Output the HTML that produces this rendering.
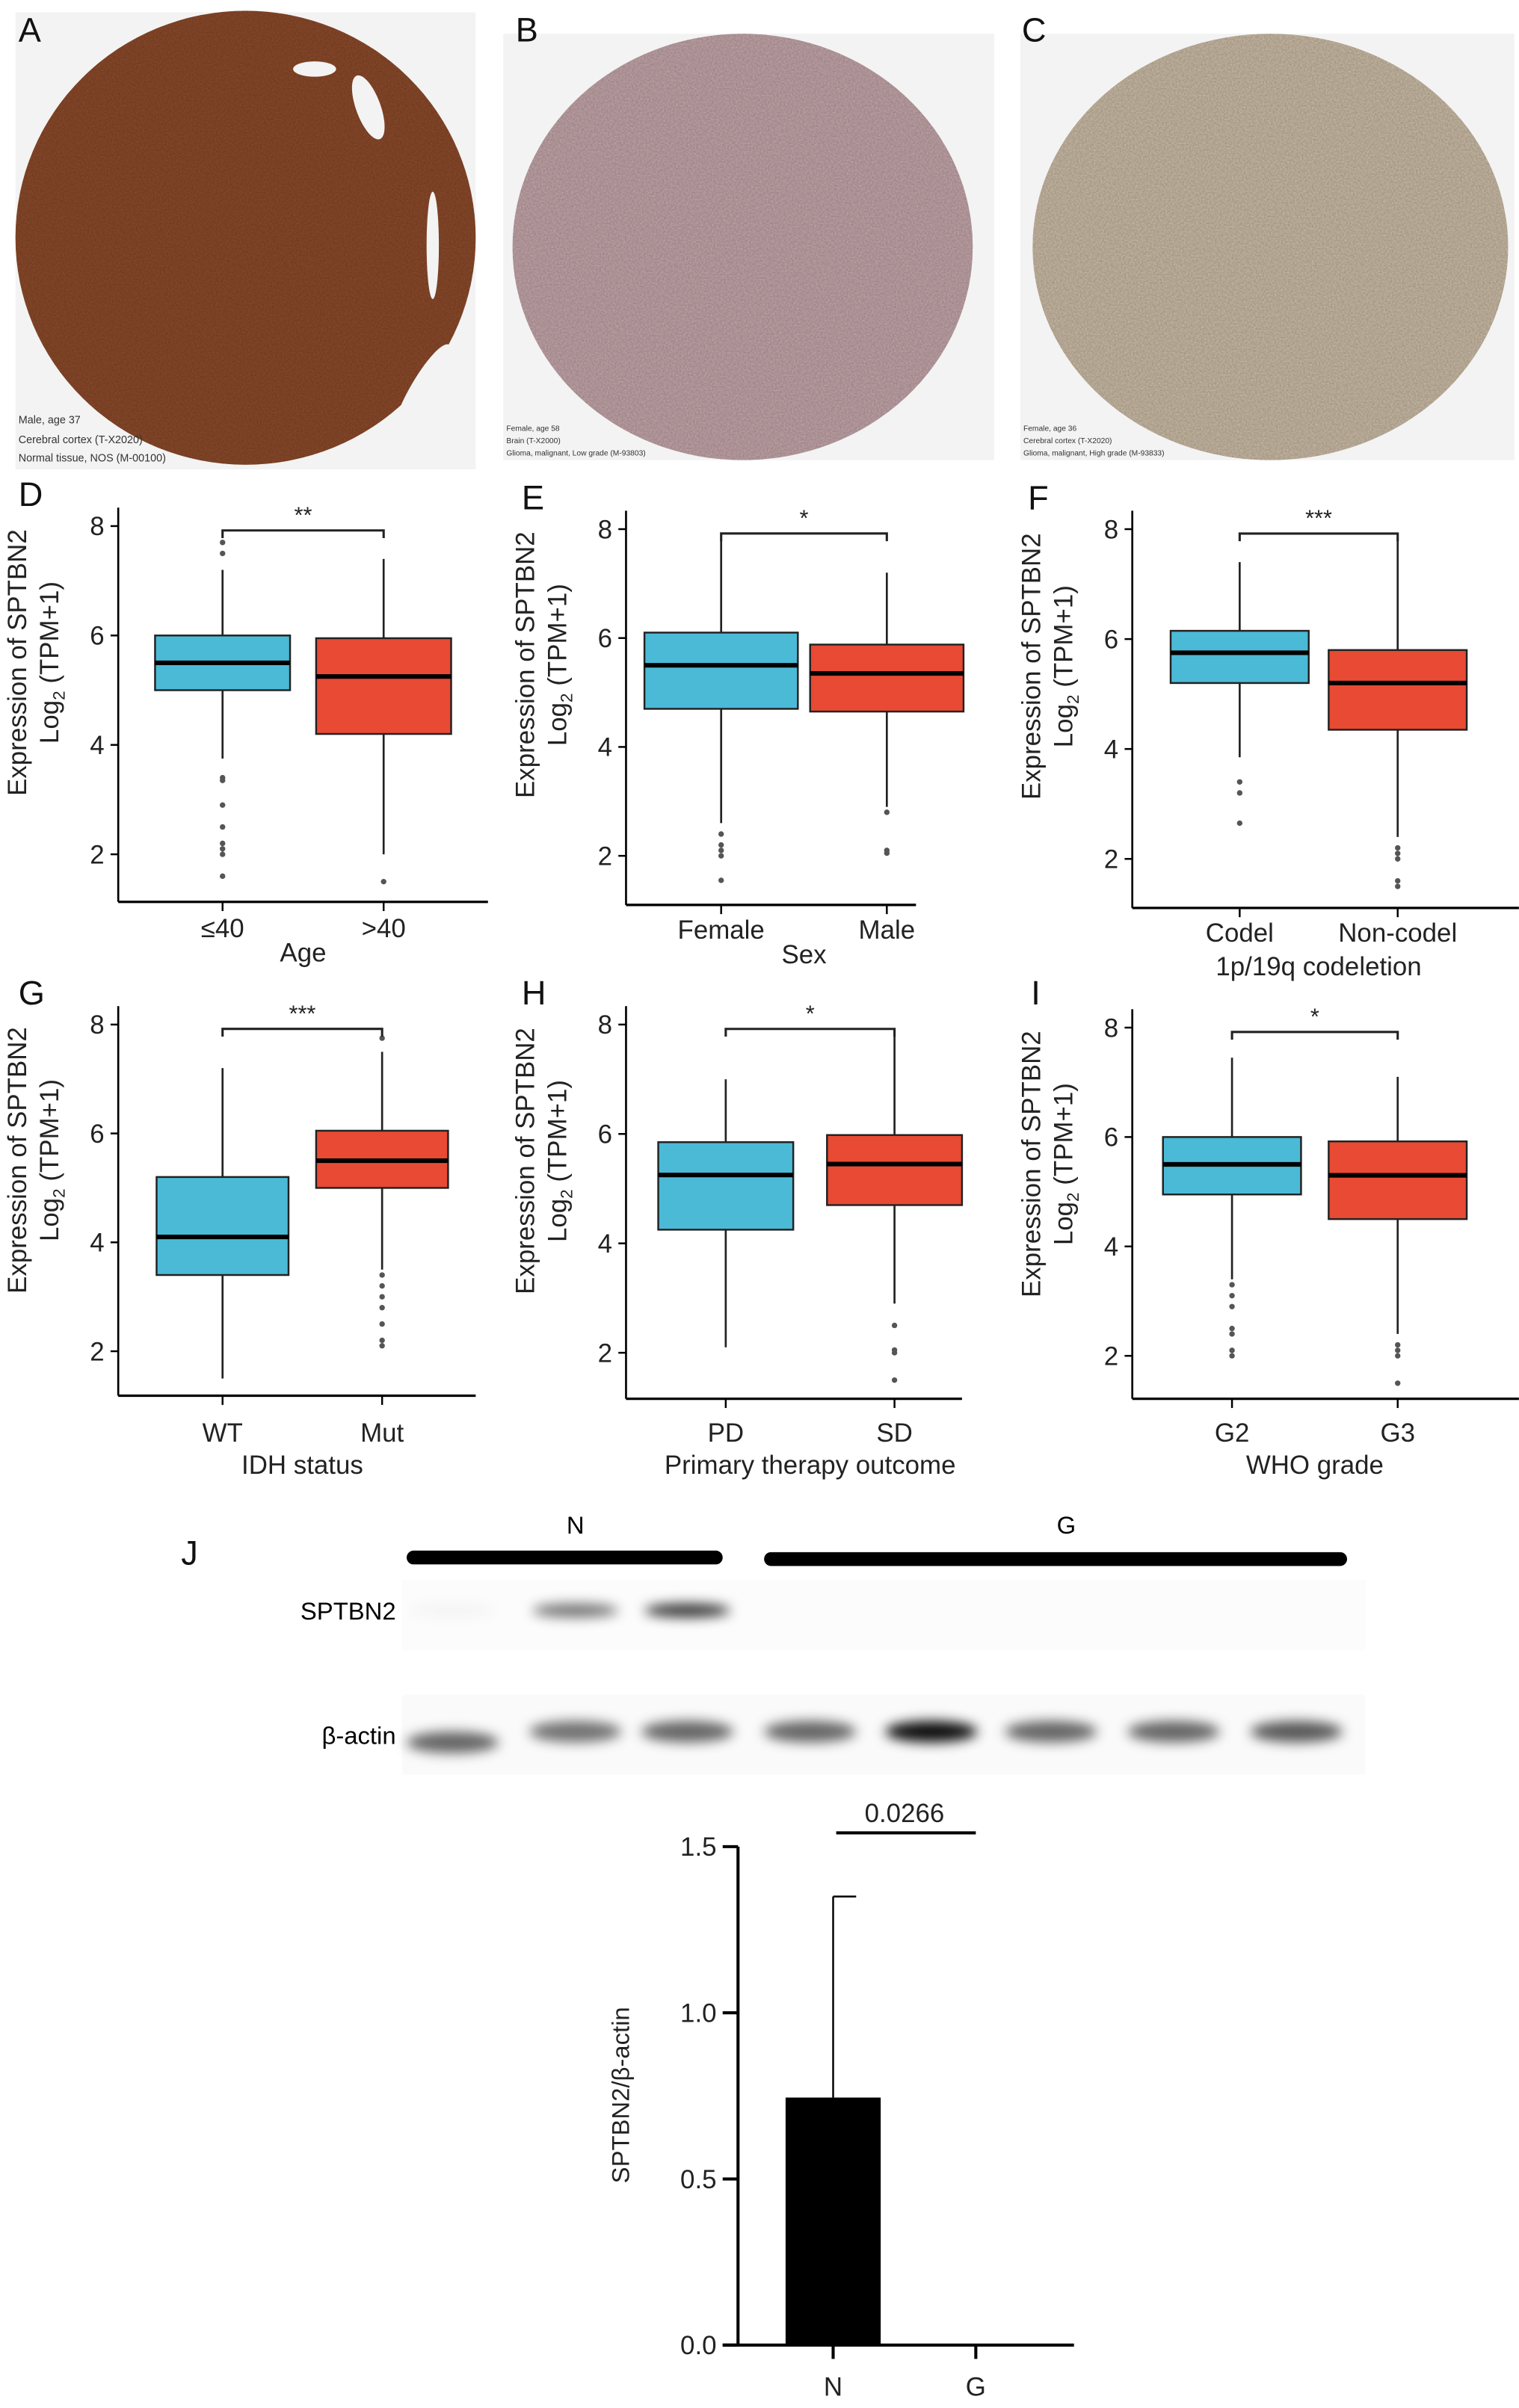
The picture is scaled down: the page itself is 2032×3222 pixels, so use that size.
<!DOCTYPE html>
<html><head><meta charset="utf-8"><style>
html,body{margin:0;padding:0;background:#fff}
svg{display:block}
text{font-family:"Liberation Sans",sans-serif}
</style></head><body>
<svg id="fig" width="2032" height="3222" viewBox="0 0 990 1570" xmlns="http://www.w3.org/2000/svg">
<defs>
<filter id="blur" x="-50%" y="-50%" width="200%" height="200%"><feGaussianBlur stdDeviation="4"/></filter>
<filter id="noise"><feTurbulence type="fractalNoise" baseFrequency="0.9" numOctaves="2" seed="3"/><feColorMatrix values="0 0 0 0 0  0 0 0 0 0  0 0 0 0 0  0 0 0 0.25 0"/><feComposite in2="SourceGraphic" operator="in"/></filter>
</defs>
<!-- IHC images -->
<g>
<rect x="10" y="8" width="300" height="298" fill="#f3f3f3"/>
<ellipse cx="160" cy="155" rx="150" ry="148" fill="#8c4a2a"/>
<ellipse cx="160" cy="155" rx="150" ry="148" fill="#000" filter="url(#noise)"/>
<ellipse cx="205" cy="45" rx="14" ry="5" fill="#f3f3f3"/>
<ellipse cx="240" cy="70" rx="8" ry="22" fill="#f3f3f3" transform="rotate(-20 240 70)"/>
<ellipse cx="282" cy="160" rx="4" ry="35" fill="#f3f3f3"/>
<ellipse cx="275" cy="255" rx="8" ry="35" fill="#f3f3f3" transform="rotate(30 275 255)"/>
<text x="12" y="276" font-size="7" fill="#333">Male, age 37</text>
<text x="12" y="289" font-size="7" fill="#333">Cerebral cortex (T-X2020)</text>
<text x="12" y="301" font-size="7" fill="#333">Normal tissue, NOS (M-00100)</text>
</g>
<g>
<rect x="328" y="22" width="320" height="278" fill="#f3f3f3"/>
<ellipse cx="484" cy="161" rx="150" ry="139" fill="#c4a6aa"/>
<ellipse cx="484" cy="161" rx="150" ry="139" fill="#000" filter="url(#noise)"/>
<text x="330" y="281" font-size="5" fill="#333">Female, age 58</text>
<text x="330" y="289" font-size="5" fill="#333">Brain (T-X2000)</text>
<text x="330" y="297" font-size="5" fill="#333">Glioma, malignant, Low grade (M-93803)</text>
</g>
<g>
<rect x="665" y="22" width="322" height="278" fill="#f3f3f3"/>
<ellipse cx="828" cy="161" rx="155" ry="139" fill="#cbbca6"/>
<ellipse cx="828" cy="161" rx="155" ry="139" fill="#000" filter="url(#noise)"/>
<text x="667" y="281" font-size="5" fill="#333">Female, age 36</text>
<text x="667" y="289" font-size="5" fill="#333">Cerebral cortex (T-X2020)</text>
<text x="667" y="297" font-size="5" fill="#333">Glioma, malignant, High grade (M-93833)</text>
</g>
<g id="letters" font-size="22" fill="#111">
<text x="12" y="27">A</text>
<text x="336" y="27">B</text>
<text x="666" y="27">C</text>
<text x="12" y="330">D</text>
<text x="340" y="332">E</text>
<text x="670" y="332">F</text>
<text x="12" y="655">G</text>
<text x="340" y="655">H</text>
<text x="672" y="655">I</text>
<text x="118" y="1020">J</text>
</g>
<g id="boxplots"></g>
<!-- Western blot -->
<g>
<rect x="265" y="1011" width="206" height="9" rx="4.5" fill="#000"/>
<rect x="498" y="1012" width="380" height="9" rx="4.5" fill="#000"/>
<text x="375" y="1000" font-size="16" text-anchor="middle">N</text>
<text x="695" y="1000" font-size="16" text-anchor="middle">G</text>
<rect x="262" y="1030" width="628" height="46" fill="#fcfcfc"/>
<rect x="262" y="1105" width="628" height="52" fill="#fafafa"/>
<text x="258" y="1056" font-size="16" text-anchor="end">SPTBN2</text>
<text x="258" y="1137" font-size="16" text-anchor="end">β-actin</text>
<g id="bands" filter="url(#blur)"></g>
</g>
<g id="barchart"></g>
</svg>
<script>
// ---- box plot data ----
const panelNames = ['d','e','f','g','h','i'];
const groupLabels = [['≤40','>40'],['Female','Male'],['Codel','Non-codel'],['WT','Mut'],['PD','SD'],['G2','G3']];
const axisTitles = ['Age','Sex','1p/19q codeletion','IDH status','Primary therapy outcome','WHO grade'];
const sigLabels = ['**','*','***','***','*','*'];
const yTicks = [2,4,6,8];
// [low whisker, q1, median, q3, high whisker]
const statsA = [[3.75,5.0,5.5,6.0,7.2],[2.6,4.7,5.5,6.1,7.8],[3.85,5.2,5.75,6.15,7.4],[1.5,3.4,4.1,5.2,7.2],[2.1,4.25,5.25,5.85,7.0],[3.4,4.95,5.5,6.0,7.45]];
const statsB = [[2.0,4.2,5.25,5.95,7.4],[2.9,4.65,5.35,5.88,7.2],[2.4,4.35,5.2,5.8,7.85],[3.5,5.0,5.5,6.05,7.5],[2.9,4.7,5.45,5.98,7.8],[2.4,4.5,5.3,5.92,7.1]];
const outA = [[7.7,7.5,3.4,3.35,2.9,2.5,2.2,2.1,2.0,1.6],[2.4,2.2,2.1,2.0,1.55],[3.4,3.2,2.65],[],[],[3.3,3.1,2.9,2.5,2.4,2.1,2.0]];
const outB = [[1.5],[2.8,2.1,2.05],[2.2,2.1,2.0,1.6,1.5],[7.75,3.4,3.2,3.0,2.8,2.5,2.2,2.1],[2.5,2.05,2.0,1.5],[2.2,2.1,2.0,1.5]];
// ---- bar chart data ----
const barCats = ['N','G'];
const barVals = [0.745,0.0];
const barErr = [0.605,0.0];
const barTicks = [0.0,0.5,1.0,1.5];
const pValue = '0.0266';
// ---- blot band intensities (0-1) ----
const sptbn2Bands = [0.03,0.55,0.8,0,0,0,0,0];
const actinBands = [0.6,0.55,0.6,0.6,0.95,0.6,0.6,0.65];

const NS='http://www.w3.org/2000/svg';
function mk(tag,attrs,parent){const e=document.createElementNS(NS,tag);for(const k in attrs)e.setAttribute(k,attrs[k]);parent.appendChild(e);return e;}

const layout=[
 {ax:77,y8:343,y2:557,base:588,right:318,cx:[145,250],bw:88,lab:605,tit:621},
 {ax:408,y8:345,y2:558,base:590,right:597,cx:[470,578],bw:100,lab:606,tit:622},
 {ax:738,y8:345,y2:560,base:592,right:990,cx:[808,911],bw:90,lab:608,tit:630},
 {ax:77,y8:668,y2:881,base:910,right:310,cx:[145,249],bw:86,lab:934,tit:955},
 {ax:408,y8:668,y2:882,base:912,right:627,cx:[473,583],bw:88,lab:934,tit:955},
 {ax:738,y8:670,y2:884,base:912,right:990,cx:[803,911],bw:90,lab:934,tit:955}
];
const colors=['#4bbad6','#e84a33'];
const bp=document.getElementById('boxplots');
panelNames.forEach((p,i)=>{
  const L=layout[i];
  const y=v=>L.y2+(v-2)*(L.y8-L.y2)/6;
  const g=mk('g',{},bp);
  
  
  const ya=mk('line',{x1:L.ax,x2:L.ax,y1:L.y8-12,y2:L.base,stroke:'#000','stroke-width':1.3},g);
  
  
  const xa=mk('line',{x1:L.ax,x2:L.right,y1:L.base,y2:L.base,stroke:'#000','stroke-width':1.6},g);
  
  
  yTicks.forEach(t=>{
    mk('line',{x1:L.ax-5,x2:L.ax,y1:y(t),y2:y(t),stroke:'#000','stroke-width':1.2},g);
    const tx=mk('text',{x:L.ax-9,y:y(t)+6,'font-size':17,'text-anchor':'end',fill:'#222'},g);
    tx.textContent=t;
    
    
  });
  const cy=(L.y8+L.y2)/2-18;
  const yt=mk('text',{transform:`translate(${L.ax-60},${cy}) rotate(-90)`,'font-size':17,'text-anchor':'middle',fill:'#222'},g);
  yt.textContent='Expression of SPTBN2';
  
  
  const yt2=mk('text',{transform:`translate(${L.ax-39},${cy}) rotate(-90)`,'font-size':17,'text-anchor':'middle',fill:'#222'},g);
  yt2.innerHTML='Log<tspan font-size="11" dy="4">2</tspan><tspan dy="-4"> (TPM+1)</tspan>';
  
  
  [statsA[i],statsB[i]].forEach((s,j)=>{
    const cx=L.cx[j];
    const bg=mk('g',{},g);
    
    
    mk('line',{x1:cx,x2:cx,y1:y(s[0]),y2:y(s[4]),stroke:'#222','stroke-width':1.3},bg);
    mk('rect',{x:cx-L.bw/2,y:y(s[3]),width:L.bw,height:y(s[1])-y(s[3]),fill:colors[j],stroke:'#222','stroke-width':1.2},bg);
    mk('line',{x1:cx-L.bw/2,x2:cx+L.bw/2,y1:y(s[2]),y2:y(s[2]),stroke:'#000','stroke-width':3},bg);
    (j?outB[i]:outA[i]).forEach(o=>{
      const c=mk('circle',{cx:cx,cy:y(o),r:1.8,fill:'#555'},bg);
      
      
    });
    mk('line',{x1:cx,x2:cx,y1:L.base,y2:L.base+6,stroke:'#000','stroke-width':1.2},g);
    const lt=mk('text',{x:cx,y:L.lab+6,'font-size':17,'text-anchor':'middle',fill:'#222'},g);
    lt.textContent=groupLabels[i][j];
    
    
  });
  const by=y(7.92);
  const br=mk('path',{d:`M${L.cx[0]},${by+5}V${by}H${L.cx[1]}V${by+5}`,fill:'none',stroke:'#222','stroke-width':1.5},g);
  
  
  const st=mk('text',{x:(L.cx[0]+L.cx[1])/2,y:by-5,'font-size':15,'text-anchor':'middle',fill:'#222'},g);
  st.textContent=sigLabels[i];
  
  
  const ti=mk('text',{x:(L.cx[0]+L.cx[1])/2,y:L.tit+6,'font-size':17,'text-anchor':'middle',fill:'#222'},g);
  ti.textContent=axisTitles[i];
  
  
});

const laneX=[295,375,448,528,607,685,765,845];
const bands=document.getElementById('bands');
laneX.forEach((x,k)=>{
  if(sptbn2Bands[k]>0){
    const b=mk('ellipse',{cx:x,cy:1050,rx:28,ry:4.5,fill:'#000',opacity:sptbn2Bands[k]},bands);
    
    
  }
  const a=mk('ellipse',{cx:x,cy:k===0?1136:1129,rx:30,ry:7,fill:'#000',opacity:actinBands[k]},bands);
  
  
});

const bc=document.getElementById('barchart');
const AX=481, Y0=1529, Y15=1204, RIGHT=700;
const by=v=>Y0+(v)*(Y15-Y0)/1.5;
const bx=[543,636];
const ya=mk('line',{x1:AX,x2:AX,y1:Y15,y2:Y0,stroke:'#000','stroke-width':2},bc);


const xa=mk('line',{x1:AX-10,x2:RIGHT,y1:Y0,y2:Y0,stroke:'#000','stroke-width':2},bc);


barTicks.forEach(t=>{
  mk('line',{x1:AX-10,x2:AX,y1:by(t),y2:by(t),stroke:'#000','stroke-width':2},bc);
  const tx=mk('text',{x:AX-14,y:by(t)+6,'font-size':17,'text-anchor':'end',fill:'#222'},bc);
  tx.textContent=t.toFixed(1);
  
  
});
barCats.forEach((c,k)=>{
  const x=bx[k];
  const r=mk('rect',{x:x-31,y:by(barVals[k]),width:62,height:Y0-by(barVals[k]),fill:'#000'},bc);
  
  
  if(barErr[k]>0){
    const e=mk('path',{d:`M${x},${by(barVals[k])}V${by(barVals[k]+barErr[k])}M${x},${by(barVals[k]+barErr[k])}H${x+15}`,stroke:'#000','stroke-width':1.2,fill:'none'},bc);
    
    
  }
  mk('line',{x1:x,x2:x,y1:Y0,y2:Y0+9,stroke:'#000','stroke-width':2},bc);
  const lt=mk('text',{x:x,y:Y0+33,'font-size':17,'text-anchor':'middle',fill:'#222'},bc);
  lt.textContent=c;
  
  
});
const pl=mk('line',{x1:bx[0]+2,x2:bx[1],y1:1195,y2:1195,stroke:'#000','stroke-width':2},bc);


const pt=mk('text',{x:(bx[0]+bx[1])/2,y:1188,'font-size':17,'text-anchor':'middle',fill:'#222'},bc);
pt.textContent=pValue;


const yt=mk('text',{transform:`translate(410,1366) rotate(-90)`,'font-size':16,'text-anchor':'middle',fill:'#222'},bc);
yt.textContent='SPTBN2/β-actin';


</script>
</body></html>
